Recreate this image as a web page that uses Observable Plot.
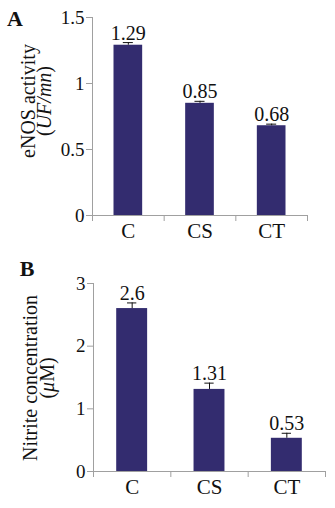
<!DOCTYPE html>
<html><head><meta charset="utf-8">
<script src="https://cdn.jsdelivr.net/npm/d3@7"></script>
<script src="https://cdn.jsdelivr.net/npm/@observablehq/plot@0.6"></script>
<style>body{margin:0;background:#fff} svg{display:block}</style>
</head><body><div id="chart"></div>
<script>
const categories = ["C", "CS", "CT"];
const enosValues = [1.29, 0.85, 0.68];
const enosErrors = [0.02, 0.015, 0.012];
const enosLabels = ["1.29", "0.85", "0.68"];
const enosTicks = [0, 0.5, 1, 1.5];
const nitriteValues = [2.6, 1.31, 0.53];
const nitriteErrors = [0.09, 0.1, 0.08];
const nitriteLabels = ["2.6", "1.31", "0.53"];
const nitriteTicks = [0, 1, 2, 3];
const enosTitle = "eNOS activity";
const enosUnit = ["(", "UF/mn", ")"];
const nitriteTitle = "Nitrite concentration";
const nitriteUnit = ["(", "\u03BC", "M)"];

const BAR = "#332c6f", AXIS = "#a0a0a0", INK = "#111", FONT = "'Liberation Serif', 'Times New Roman', serif";

function panel({values, errors, labels, ticks, yMax, margins, capHalf}) {
  const data = categories.map((c, i) => ({c, i, value: values[i], err: errors[i], label: labels[i]}));
  return Plot.plot({
    width: 335, height: 254, ...margins,
    style: {fontFamily: FONT, fontSize: "20px", color: INK, background: "#fff", overflow: "visible"},
    x: {type: "linear", domain: [0, categories.length], axis: null, label: null},
    y: {domain: [0, yMax], axis: null, label: null},
    marks: [
      Plot.rectY(data, {x1: d => d.i + 0.3, x2: d => d.i + 0.7, y: "value", fill: BAR}),
      Plot.ruleX(data, {x: d => d.i + 0.5, y1: "value", y2: d => d.value + d.err, stroke: INK}),
      Plot.ruleY(data, {y: d => d.value + d.err, x1: d => d.i + 0.5 - capHalf, x2: d => d.i + 0.5 + capHalf, stroke: INK}),
      Plot.text(data, {x: d => d.i + 0.5, y: d => d.value + d.err, text: "label", dy: -3, lineAnchor: "bottom", fontSize: 20, fill: INK}),
      Plot.ruleX([0], {stroke: AXIS}),
      Plot.ruleY([0], {stroke: AXIS}),
      Plot.axisY({ticks, tickFormat: d => String(d), tickSize: 6, tickPadding: 2, stroke: AXIS, fill: INK, fontSize: 19, label: null}),
      Plot.axisX({ticks: d3.range(categories.length + 1), tickSize: 6, tickFormat: () => "", stroke: AXIS, label: null}),
      Plot.axisX({ticks: categories.map((c, i) => i + 0.5), tickSize: 0, tickPadding: 8, tickFormat: d => categories[Math.floor(d)], fill: INK, fontSize: 21, label: null})
    ]
  });
}

function addTitles(svg, {letter, lx, ly, title, unit, italicIndex, x1, x2, cy}) {
  const g = d3.select(svg).append("g").attr("font-family", FONT).attr("font-size", 20).attr("fill", INK);
  g.append("text").attr("x", lx).attr("y", ly).attr("font-weight", "bold").attr("font-size", 22).text(letter);
  g.append("text").attr("transform", `translate(${x1},${cy}) rotate(-90)`).attr("text-anchor", "middle").text(title);
  const t = g.append("text").attr("transform", `translate(${x2},${cy}) rotate(-90)`).attr("text-anchor", "middle");
  unit.forEach((s, k) => {
    const sp = t.append("tspan").text(s);
    if (k === italicIndex) sp.attr("font-style", "italic");
  });
}

const svgA = panel({values: enosValues, errors: enosErrors, labels: enosLabels, ticks: enosTicks, yMax: 1.5,
  margins: {marginLeft: 92, marginRight: 28, marginTop: 17, marginBottom: 39}, capHalf: 0.07});
addTitles(svgA, {letter: "A", lx: 15, ly: 26, title: enosTitle, unit: enosUnit, italicIndex: 1, x1: 35, x2: 51, cy: 101});

const svgB = panel({values: nitriteValues, errors: nitriteErrors, labels: nitriteLabels, ticks: nitriteTicks, yMax: 3,
  margins: {marginLeft: 93, marginRight: 10, marginTop: 29, marginBottom: 37}, capHalf: 0.06});
addTitles(svgB, {letter: "B", lx: 27, ly: 22, title: nitriteTitle, unit: nitriteUnit, italicIndex: 1, x1: 37, x2: 54, cy: 124});

document.getElementById("chart").append(svgA, svgB);
</script>
</body></html>
